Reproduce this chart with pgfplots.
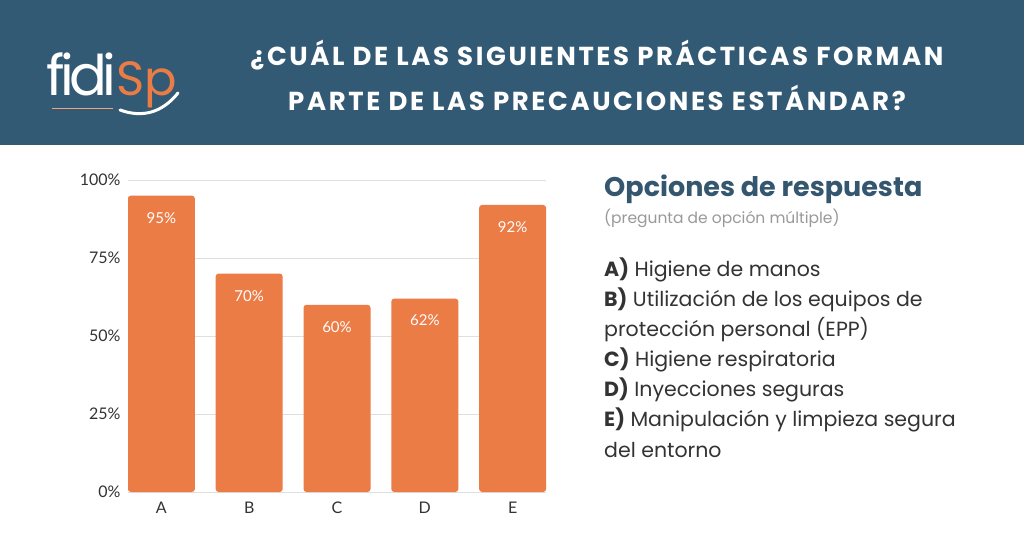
\documentclass[border=0pt]{standalone}
\usepackage{pgfplots}
\pgfplotsset{compat=1.18}
\usepackage{fontspec}
\setmainfont{Poppins}
\newfontfamily\lato{Lato}
\definecolor{hdr}{HTML}{335A75}
\definecolor{bar}{HTML}{EC7C46}
\definecolor{txt}{HTML}{333333}
\definecolor{head}{HTML}{34576F}
\begin{document}
\begin{tikzpicture}[x=1pt,y=1pt]
\fill[white] (0,0) rectangle (1024,536);
\fill[hdr] (0,391) rectangle (1024,536);
% logo
\node[anchor=base west,text=white,font=\fontsize{56}{56}\selectfont,inner sep=0] at (46,440) {\addfontfeature{LetterSpace=-8}fidi};
\node[anchor=base west,text=bar,font=\fontsize{48}{48}\selectfont,inner sep=0] at (116,440) {Sp};
\draw[white,line width=3pt,line cap=round] (120,426) .. controls (142,418) and (162,423) .. (178,443);
\draw[bar!70!white,line width=0.6pt] (52,428) -- (113,428);
% title
\node[text=white,font=\bfseries\fontsize{26}{26}\selectfont] at (597,481) {\addfontfeature{LetterSpace=10}¿CUÁL DE LAS SIGUIENTES PRÁCTICAS FORMAN};
\node[text=white,font=\bfseries\fontsize{26}{26}\selectfont] at (597,438) {\addfontfeature{LetterSpace=10}PARTE DE LAS PRECAUCIONES ESTÁNDAR?};
% right text
\node[anchor=west,text=head,font=\bfseries\fontsize{27}{27}\selectfont,inner sep=0] at (604,347) {Opciones de respuesta};
\node[anchor=west,text=gray!80,font=\fontsize{15.5}{15.5}\selectfont,inner sep=0] at (604,318) {(pregunta de opción múltiple)};
\begin{scope}[every node/.style={anchor=west,text=txt,font=\fontsize{20.5}{20.5}\selectfont,inner sep=0}]
\node at (604,266) {\textbf{A)} Higiene de manos};
\node at (604,236) {\textbf{B)} Utilización de los equipos de};
\node at (604,206) {protección personal (EPP)};
\node at (604,176) {\textbf{C)} Higiene respiratoria};
\node at (604,146) {\textbf{D)} Inyecciones seguras};
\node at (604,116) {\textbf{E)} Manipulación y limpieza segura};
\node at (604,86) {del entorno};
\end{scope}
\begin{axis}[at={(128pt,44pt)},anchor=south west,scale only axis,width=418pt,height=312pt,
 xmin=-0.38,xmax=4.38,ymin=0,ymax=100,
 /pgf/number format/assume math mode=true,
 axis line style={draw=none},tick style={draw=none},
 ymajorgrids,grid style={gray!25,line width=0.8pt},
 ytick={0,25,50,75,100},yticklabel={\pgfmathprintnumber{\tick}\%},
 yticklabel style={text=txt,font=\lato\fontsize{16}{16}\selectfont,xshift=-4pt},
 xtick=data,xticklabels={A,B,C,D,E},
 xticklabel style={text=txt,font=\lato\fontsize{16}{16}\selectfont,yshift=-2pt},
 ybar,bar width=0.763,
 nodes near coords={\pgfmathprintnumber{\pgfplotspointmeta}\%},
 nodes near coords style={text=white,font=\lato\fontsize{15}{15}\selectfont,anchor=north,yshift=-13pt},
]
\addplot[fill=bar,draw=none,rounded corners=3pt] coordinates {(0,95) (1,70) (2,60) (3,62) (4,92)};
\end{axis}
\end{tikzpicture}
\end{document}
